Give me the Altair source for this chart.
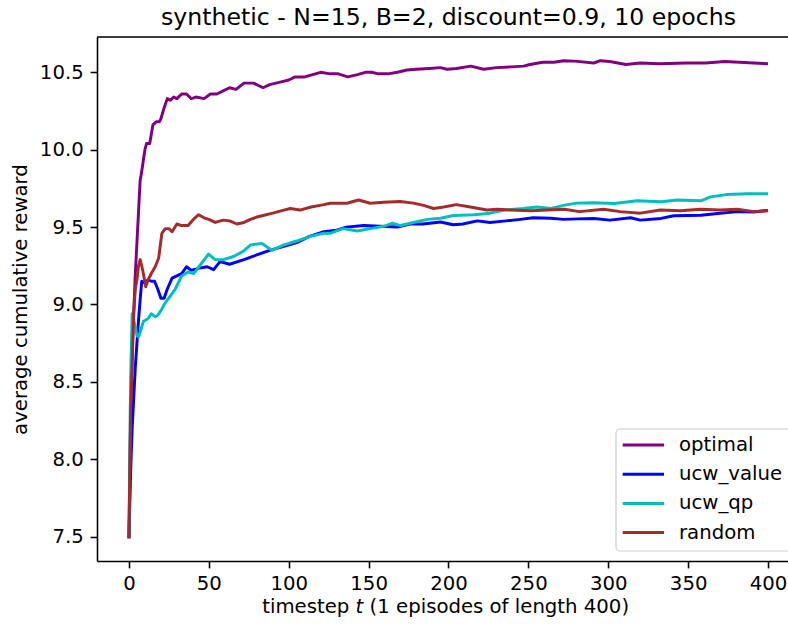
import altair as alt
import pandas as pd

# ---------------- data ----------------
series_names = ["optimal", "ucw_value", "ucw_qp", "random"]
series_colors = ["#800080", "#0000ff", "#00bfbf", "#a52a2a"]

optimal_t = [0, 1, 2, 3, 4, 5, 6, 7, 8, 9, 10, 11, 13, 15, 17, 19, 20, 22, 24, 26, 28, 30, 33, 36, 39,
             42, 47, 51, 55, 58, 63, 67, 72, 78, 84, 88, 96, 100, 104, 110, 120, 126, 131, 137, 143, 148,
             152, 156, 162, 168, 174, 180, 188, 195, 199, 205, 214, 222, 230, 239, 247, 251, 259, 266,
             272, 279, 291, 295, 301, 311, 320, 332, 349, 361, 373, 382, 391, 400]
optimal_v = [7.49, 8.2, 8.7, 8.95, 9.2, 9.4, 9.6, 9.8, 9.86, 9.93, 10.0, 10.04, 10.04, 10.16, 10.18, 10.18,
             10.2, 10.27, 10.33, 10.32, 10.34, 10.33, 10.36, 10.36, 10.33, 10.34, 10.33, 10.36, 10.36,
             10.375, 10.40, 10.39, 10.43, 10.43, 10.40, 10.42, 10.44, 10.45, 10.47, 10.47, 10.50, 10.49,
             10.49, 10.47, 10.485, 10.50, 10.50, 10.49, 10.49, 10.50, 10.515, 10.52, 10.525, 10.53, 10.52,
             10.525, 10.54, 10.52, 10.53, 10.535, 10.54, 10.55, 10.565, 10.565, 10.575, 10.572, 10.56,
             10.575, 10.57, 10.55, 10.56, 10.555, 10.56, 10.56, 10.57, 10.565, 10.56, 10.555]

ucw_value_t = [0, 1, 2, 3, 4, 5, 6, 7, 8, 10, 12, 14, 16, 18, 20, 22, 24, 27, 31, 33, 36, 39, 44, 49, 53,
               57, 63, 72, 80, 88, 97, 105, 113, 122, 130, 136, 147, 157, 168, 176, 184, 195, 203, 209,
               218, 226, 236, 245, 253, 264, 272, 281, 291, 301, 314, 320, 333, 341, 358, 370, 381, 391, 400]
ucw_value_v = [7.49, 7.9, 8.2, 8.4, 8.6, 8.75, 8.9, 9.03, 9.15, 9.14, 9.16, 9.15, 9.15, 9.10, 9.04, 9.04,
               9.10, 9.17, 9.19, 9.20, 9.244, 9.22, 9.235, 9.244, 9.225, 9.277, 9.26, 9.29, 9.32, 9.35,
               9.375, 9.40, 9.44, 9.47, 9.48, 9.50, 9.51, 9.505, 9.50, 9.52, 9.52, 9.533, 9.515, 9.52,
               9.54, 9.53, 9.54, 9.55, 9.56, 9.557, 9.55, 9.553, 9.556, 9.545, 9.56, 9.545, 9.556, 9.573,
               9.577, 9.59, 9.60, 9.597, 9.608]

ucw_qp_t = [0, 1, 2, 3, 4, 5, 6, 7, 9, 12, 14, 16.5, 18, 20.6, 22, 24.8, 29, 33, 37, 40.5, 44.6, 49.8, 54,
            59, 65.5, 71.7, 76, 83, 89.5, 97, 105, 113.5, 122, 126, 130, 134, 143, 151, 159.5, 165, 170,
            178, 187, 195, 203, 216, 226, 235, 247, 255, 264, 272, 280, 291, 304, 318, 333, 343, 358, 364,
            374, 387, 400]
ucw_qp_v = [7.49, 8.5, 8.94, 8.9, 8.85, 8.8, 8.79, 8.82, 8.89, 8.91, 8.94, 8.92, 8.93, 8.97, 9.0, 9.04,
            9.10, 9.184, 9.21, 9.20, 9.255, 9.325, 9.29, 9.29, 9.31, 9.345, 9.384, 9.395, 9.35, 9.385,
            9.41, 9.44, 9.46, 9.46, 9.475, 9.49, 9.475, 9.49, 9.505, 9.525, 9.51, 9.53, 9.55, 9.557,
            9.575, 9.58, 9.59, 9.61, 9.62, 9.63, 9.62, 9.64, 9.655, 9.657, 9.653, 9.67, 9.664, 9.675,
            9.67, 9.695, 9.71, 9.716, 9.716]

random_t = [0, 1, 2, 3, 4, 5, 6, 7, 8, 9, 10.5, 12, 14, 16.5, 18.6, 20.6, 22.7, 25, 27, 30, 33, 37, 41,
            43.6, 47, 50, 54, 59, 63, 67.6, 72, 76, 80, 84, 90, 97, 101, 107, 114, 122, 126, 132, 136.5,
            143.7, 151, 159.4, 169.8, 178, 184.4, 190.7, 197, 205, 213.7, 224, 230.5, 239, 251.5, 262,
            272.5, 282, 297, 307.5, 320, 332.6, 345, 357.6, 370, 380.7, 391, 400]
random_v = [7.49, 8.3, 8.6, 8.95, 9.1, 9.16, 9.25, 9.29, 9.25, 9.20, 9.115, 9.16, 9.20, 9.245, 9.30, 9.46,
            9.49, 9.49, 9.47, 9.52, 9.51, 9.51, 9.557, 9.58, 9.56, 9.55, 9.53, 9.545, 9.54, 9.52, 9.53,
            9.55, 9.565, 9.575, 9.59, 9.61, 9.62, 9.61, 9.63, 9.645, 9.654, 9.655, 9.654, 9.675, 9.654,
            9.66, 9.665, 9.655, 9.64, 9.62, 9.63, 9.645, 9.63, 9.61, 9.615, 9.61, 9.605, 9.61, 9.615,
            9.60, 9.615, 9.60, 9.59, 9.61, 9.605, 9.615, 9.61, 9.615, 9.60, 9.605]

x_ticks = [0, 50, 100, 150, 200, 250, 300, 350, 400]
y_ticks = [7.5, 8.0, 8.5, 9.0, 9.5, 10.0, 10.5]

title_text = "synthetic - N=15, B=2, discount=0.9, 10 epochs"
ylabel_text = "average cumulative reward"
xlabel_parts = ["timestep", "t", "(1 episodes of length 400)"]

# ---------------- layout / style ----------------
FONT = "DejaVu Sans"
W, H = 691, 524
FS = 19.7
LW = 2.95

series_t = [optimal_t, ucw_value_t, ucw_qp_t, random_t]
series_v = [optimal_v, ucw_value_v, ucw_qp_v, random_v]

x_axis = alt.Axis(values=x_ticks, format="d", title=None, grid=False, tickSize=6.9, tickWidth=1.57,
                  tickColor="black", domainColor="black", domainWidth=1.57, labelFontSize=FS,
                  labelFont=FONT, labelColor="black", labelPadding=5.7, labelOverlap=False,
                  labelFlush=False)
y_axis = alt.Axis(values=y_ticks, format=".1f", title=ylabel_text, grid=False, tickSize=6.9,
                  tickWidth=1.57, tickColor="black", domainColor="black", domainWidth=1.57,
                  labelFontSize=FS, labelFont=FONT, labelColor="black", labelPadding=6.9,
                  labelOverlap=False, titleFont=FONT, titleFontSize=FS, titleFontWeight="normal",
                  titleColor="black", titleAngle=270, titleX=-70.2, titleY=262, titleAlign="center",
                  titleBaseline="alphabetic")

x_enc = alt.X("t:Q", scale=alt.Scale(domain=[-20, 412.5], nice=False, zero=False), axis=x_axis)
y_enc = alt.Y("v:Q", scale=alt.Scale(domain=[7.343, 10.728], nice=False, zero=False), axis=y_axis)

layers = []
for name, col, ts, vs in zip(series_names, series_colors, series_t, series_v):
    df = pd.DataFrame({"t": ts, "v": vs, "series": name})
    layers.append(
        alt.Chart(df).mark_line(color=col, strokeWidth=LW, clip=True, strokeJoin="round")
        .encode(x=x_enc, y=y_enc)
    )

one = pd.DataFrame({"a": [0]})

top_border = alt.Chart(one).mark_rule(color="black", strokeWidth=1.57).encode(
    x=alt.value(0), x2=alt.value(W), y=alt.value(0))

# title
title_mark = alt.Chart(one).mark_text(align="center", baseline="alphabetic", font=FONT, fontSize=23.6,
                                      color="black", text=title_text).encode(
    x=alt.value(351.5), y=alt.value(-11.8))

# legend (drawn as marks, matplotlib-style)
legend_layers = [
    alt.Chart(one).mark_rect(fill="white", fillOpacity=0.8, stroke="#cccccc", strokeWidth=1.2,
                             cornerRadius=4).encode(
        x=alt.value(519), x2=alt.value(720), y=alt.value(392), y2=alt.value(514))
]
for i, (name, col) in enumerate(zip(series_names, series_colors)):
    ry = 408 + 29.2 * i
    legend_layers.append(
        alt.Chart(one).mark_rule(strokeWidth=LW, color=col).encode(
            x=alt.value(525.7), x2=alt.value(567), y=alt.value(ry)))
    legend_layers.append(
        alt.Chart(one).mark_text(align="left", baseline="middle", font=FONT, fontSize=FS,
                                 color="black", text=name).encode(
            x=alt.value(582), y=alt.value(ry)))

# x label with italic t
xl_y = 575.7
xl1 = alt.Chart(one).mark_text(align="right", baseline="alphabetic", font=FONT, fontSize=FS,
                               color="black", text=xlabel_parts[0]).encode(
    x=alt.value(252.3), y=alt.value(xl_y))
xl2 = alt.Chart(one).mark_text(align="left", baseline="alphabetic", font=FONT, fontSize=FS,
                               fontStyle="italic", color="black", text=xlabel_parts[1]).encode(
    x=alt.value(258.6), y=alt.value(xl_y))
xl3 = alt.Chart(one).mark_text(align="left", baseline="alphabetic", font=FONT, fontSize=FS,
                               color="black", text=xlabel_parts[2]).encode(
    x=alt.value(272.6), y=alt.value(xl_y))

chart = alt.layer(*layers, top_border, title_mark, *legend_layers, xl1, xl2, xl3).properties(
    width=W, height=H,
    autosize="none",
    padding={"left": 97, "top": 37, "right": 0, "bottom": 63},
).configure_view(stroke=None).configure(font=FONT, background="white")

chart.save("out.html", embed_options={"renderer": "svg", "actions": False})
